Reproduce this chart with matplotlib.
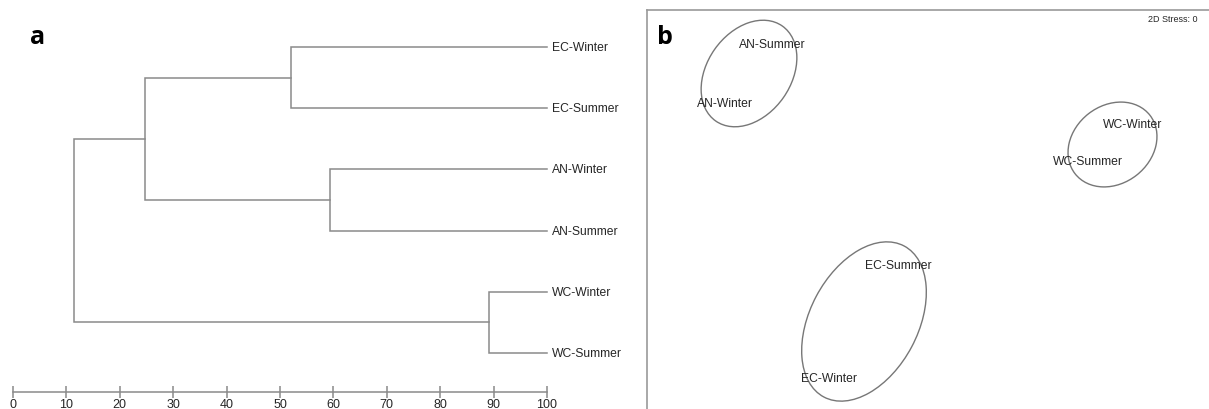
import numpy as np
import matplotlib.pyplot as plt
from matplotlib.patches import Ellipse

plt.rcParams['font.family'] = ['Liberation Sans', 'DejaVu Sans']

# ---- dendrogram data (similarity %) ----
leaves = ['EC-Winter', 'EC-Summer', 'AN-Winter', 'AN-Summer', 'WC-Winter', 'WC-Summer']
# merges: (node a, node b, similarity) ; nodes >= 6 are earlier merges
merges = [(0, 1, 52.0),
          (2, 3, 59.4),
          (4, 5, 89.1),
          (6, 7, 24.7),
          (9, 8, 11.4)]
sim_ticks = [0, 10, 20, 30, 40, 50, 60, 70, 80, 90, 100]

# ---- MDS data ----
mds_labels = ['AN-Summer', 'AN-Winter', 'WC-Winter', 'WC-Summer', 'EC-Summer', 'EC-Winter']
mds_x = [1.25, 0.78, 4.86, 4.41, 2.51, 1.82]
mds_y = [3.66, 3.07, 2.86, 2.49, 1.45, 0.32]
# grouping ellipses: centre x, centre y, width, height, angle
grp_cx = [1.02, 2.17, 4.655]
grp_cy = [3.365, 0.885, 2.655]
grp_w = [0.84, 1.08, 0.78]
grp_h = [1.16, 1.71, 0.95]
grp_ang = [-35, -28, -52]
stress = 0

line_c = '#8a8a8a'
txt_c = '#262626'

W, H = 1209, 410
fig = plt.figure(figsize=(W / 100, H / 100), dpi=100)

# ---------------- panel a ----------------
px_per = 5.34
x0 = 13
axa = fig.add_axes([0, 0, 647 / W, 1])
axa.set_xlim(-x0 / px_per, (647 - x0) / px_per)
ystep = 61.2
axa.set_ylim((410 - 48) / ystep, -48 / ystep)

pos = {i: (100.0, float(i)) for i in range(len(leaves))}
for k, (a, b, s) in enumerate(merges):
    xa, ya = pos[a]
    xb, yb = pos[b]
    axa.plot([xa, s, s, xb], [ya, ya, yb, yb], color=line_c, lw=1.1, solid_joinstyle='miter')
    pos[len(leaves) + k] = (s, (ya + yb) / 2)

for i, name in enumerate(leaves):
    axa.text(101, i, name, ha='left', va='center', fontsize=8.7, color=txt_c)

for sp in ['top', 'right', 'left']:
    axa.spines[sp].set_visible(False)
axa.spines['bottom'].set_position(('data', (393 - 48) / ystep))
axa.spines['bottom'].set_bounds(0, 100)
axa.spines['bottom'].set_color(line_c)
axa.spines['bottom'].set_linewidth(1.1)
axa.set_xticks(sim_ticks)
axa.set_xticklabels([str(t) for t in sim_ticks],
                    family=['Liberation Sans Narrow', 'Liberation Sans', 'DejaVu Sans'])
axa.tick_params(axis='x', direction='inout', length=9, width=1.1, color=line_c,
                labelsize=9, labelcolor=txt_c, pad=0)
axa.set_yticks([])
axa.patch.set_visible(False)

# ---------------- panel b ----------------
axb = fig.add_axes([647 / W, 0, (W - 647) / W, 399 / H])
axb.set_xlim(0, (W - 647) / 100)
axb.set_ylim(0.01, 4.0)
for cx, cy, w, h, ang in zip(grp_cx, grp_cy, grp_w, grp_h, grp_ang):
    axb.add_patch(Ellipse((cx, cy), w, h, angle=ang, fill=False, ec='#777777', lw=1.0))
for name, x, y in zip(mds_labels, mds_x, mds_y):
    axb.text(x, y, name, ha='center', va='center', fontsize=8.7, color=txt_c)
axb.text(5.5, 3.91, '2D Stress: %d' % stress, ha='right', va='center', fontsize=6.5, color=txt_c)
for sp in ['right', 'bottom']:
    axb.spines[sp].set_visible(False)
for sp in ['top', 'left']:
    axb.spines[sp].set_color('#9a9a9a')
    axb.spines[sp].set_linewidth(1.2)
axb.set_xticks([])
axb.set_yticks([])

fig.text(38 / W, 1 - 38 / H, 'a', ha='center', va='center', fontsize=18,
         fontweight='bold', family=['Open Sans', 'DejaVu Sans'])
fig.text(665 / W, 1 - 38 / H, 'b', ha='center', va='center', fontsize=18,
         fontweight='bold', family=['Open Sans', 'DejaVu Sans'])

fig.savefig('out.png', dpi=100)
